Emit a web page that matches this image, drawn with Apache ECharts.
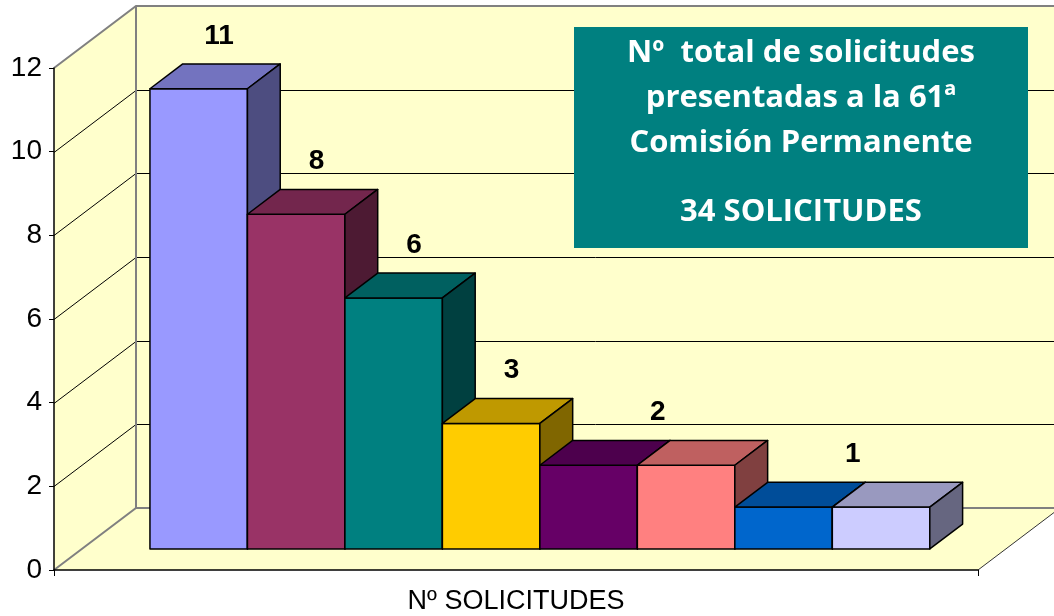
<!DOCTYPE html>
<html>
<head>
<meta charset="utf-8">
<title>Solicitudes 61ª Comisión Permanente</title>
<script src="https://cdn.jsdelivr.net/npm/echarts@6/dist/echarts.min.js"></script>
<style>
  html, body { margin: 0; padding: 0; background: #fff; }
  #chart { width: 1054px; height: 616px; }
</style>
</head>
<body>
<div id="chart"></div>
<script>
// datos del grafico
const categories = ['Nº SOLICITUDES'];
const values = [11, 8, 6, 3, 2, 2, 1, 1];
const barColors = ['#9999FF', '#993366', '#008080', '#FFCC00', '#660066', '#FF8080', '#0066CC', '#CCCCFF'];
const gridValues = [2, 4, 6, 8, 10];
const yMin = 0, yMax = 12, yStep = 2;

const boxTitle = ['Nº  total de solicitudes', 'presentadas a la 61ª', 'Comisión Permanente'];
const boxTotal = '34 SOLICITUDES';

// efecto 3D (proyeccion oblicua)
const depth = [82, -62];
const barFront = 0.34;
const barBack = 0.74;
const barShare = 0.1055; // ancho de cada barra respecto a la categoria
const barShift = -4;

const shade = (hex, k) => {
  const n = parseInt(hex.slice(1), 16);
  const r = Math.round(((n >> 16) & 255) * k);
  const g = Math.round(((n >> 8) & 255) * k);
  const b = Math.round((n & 255) * k);
  return 'rgb(' + r + ',' + g + ',' + b + ')';
};

const renderWalls = (params, api) => {
  const cs = params.coordSys;
  const xa = cs.x, xb = cs.x + cs.width;
  const y0 = api.coord([0, yMin])[1];
  const y1 = api.coord([0, yMax])[1];
  const dx = depth[0], dy = depth[1];
  const wall = { fill: '#FFFFCC', stroke: null };
  const edge = { stroke: '#808080', lineWidth: 2, fill: null };
  const children = [
    { type: 'polygon', shape: { points: [[xa, y0], [xa, y1], [xa + dx, y1 + dy], [xa + dx, y0 + dy]] }, style: wall },
    { type: 'polygon', shape: { points: [[xa + dx, y1 + dy], [xb + dx, y1 + dy], [xb + dx, y0 + dy], [xa + dx, y0 + dy]] }, style: wall },
    { type: 'polygon', shape: { points: [[xa, y0], [xb, y0], [xb + dx, y0 + dy], [xa + dx, y0 + dy]] }, style: wall }
  ];
  gridValues.forEach(g => {
    const y = Math.round(api.coord([0, g])[1]) + 0.5;
    children.push({
      type: 'polyline',
      shape: { points: [[xa, y], [xa + dx, y + dy], [xb + dx, y + dy]] },
      style: { stroke: '#000', lineWidth: 1, fill: null }
    });
  });
  children.push(
    { type: 'polyline', shape: { points: [[xa, y1], [xa + dx, y1 + dy], [xb + dx, y1 + dy]] }, style: edge },
    { type: 'polyline', shape: { points: [[xa, y0], [xa + dx, y0 + dy], [xb + dx, y0 + dy]] }, style: edge },
    { type: 'line', shape: { x1: xa + dx, y1: y1 + dy, x2: xa + dx, y2: y0 + dy }, style: edge },
    { type: 'line', shape: { x1: xb, y1: y0, x2: xb + dx, y2: y0 + dy }, style: { stroke: '#333', lineWidth: 1 } }
  );
  return { type: 'group', children: children };
};

const renderBar = (params, api) => {
  const i = params.dataIndex;
  const v = api.value(1);
  const base = api.coord([0, yMin]);
  const top = api.coord([0, v]);
  const band = api.size([1, 0])[0];
  const w = band * barShare;
  const n = values.length;
  const start = base[0] - (w * n) / 2 + barShift;
  const x0 = start + i * w;
  const fx = depth[0] * barFront, fy = depth[1] * barFront;
  const bx = depth[0] * (barBack - barFront), by = depth[1] * (barBack - barFront);
  const L = x0 + fx, R = x0 + w + fx, T = top[1] + fy, B = base[1] + fy;
  const c = barColors[i];
  const line = { stroke: '#000', lineWidth: 1.5, lineJoin: 'round' };
  const children = [
    { type: 'polygon', shape: { points: [[L, T], [R, T], [R, B], [L, B]] }, style: Object.assign({ fill: c }, line) },
    { type: 'polygon', shape: { points: [[L, T], [L + bx, T + by], [R + bx, T + by], [R, T]] }, style: Object.assign({ fill: shade(c, 0.75) }, line) },
    { type: 'polygon', shape: { points: [[R, T], [R + bx, T + by], [R + bx, B + by], [R, B]] }, style: Object.assign({ fill: shade(c, 0.5) }, line) }
  ];
  // una etiqueta por grupo de barras con el mismo valor
  if (i === 0 || values[i - 1] !== values[i]) {
    let j = i;
    while (j + 1 < n && values[j + 1] === values[i]) j++;
    const cx = (x0 + start + (j + 1) * w) / 2 + fx + bx / 2;
    children.push({
      type: 'text',
      style: {
        text: String(values[i]),
        x: cx + 4,
        y: T + by - 28,
        align: 'center',
        verticalAlign: 'middle',
        font: 'bold 28px "Liberation Sans", Arial, sans-serif',
        fill: '#000'
      }
    });
  }
  return { type: 'group', children: children };
};

const chart = echarts.init(document.getElementById('chart'));
chart.setOption({
  animation: false,
  backgroundColor: '#fff',
  grid: { left: 54, right: 76, top: 68, bottom: 46 },
  xAxis: {
    type: 'category',
    data: categories,
    axisLine: { lineStyle: { color: '#000', width: 1.5 } },
    axisTick: { show: true, length: 6, lineStyle: { color: '#000' } },
    axisLabel: { color: '#000', fontSize: 27, fontFamily: 'Liberation Sans', margin: 18 },
    splitLine: { show: false },
    z: 10
  },
  yAxis: {
    type: 'value',
    min: yMin,
    max: yMax,
    interval: yStep,
    axisLine: { show: true, lineStyle: { color: '#000', width: 1.5 } },
    axisTick: { show: true, length: 5, lineStyle: { color: '#000' } },
    axisLabel: { color: '#000', fontSize: 28, fontFamily: 'Liberation Sans', margin: 12 },
    splitLine: { show: false },
    z: 10
  },
  graphic: {
    elements: [
      {
        type: 'rect',
        z: 100,
        shape: { x: 574, y: 27, width: 454, height: 221 },
        style: { fill: '#008080' }
      },
      {
        type: 'text',
        z: 101,
        x: 801,
        y: 98,
        style: {
          text: boxTitle.join('\n'),
          textAlign: 'center',
          textVerticalAlign: 'middle',
          lineHeight: 45,
          fontSize: 31,
          fontWeight: 'bold',
          fontFamily: 'Open Sans',
          fill: '#fff'
        }
      },
      {
        type: 'text',
        z: 101,
        x: 801,
        y: 212,
        style: {
          text: boxTotal,
          textAlign: 'center',
          textVerticalAlign: 'middle',
          fontSize: 31,
          fontWeight: 'bold',
          fontFamily: 'Open Sans',
          fill: '#fff'
        }
      }
    ]
  },
  series: [
    {
      type: 'custom',
      name: 'paredes',
      renderItem: renderWalls,
      data: [[0, 0]],
      clip: false,
      silent: true,
      z: 1
    },
    {
      type: 'custom',
      name: categories[0],
      renderItem: renderBar,
      data: values.map((v, i) => [0, v, i]),
      encode: { x: 0, y: 1 },
      clip: false,
      z: 5
    }
  ]
});
window.addEventListener('resize', () => chart.resize());
</script>
</body>
</html>
